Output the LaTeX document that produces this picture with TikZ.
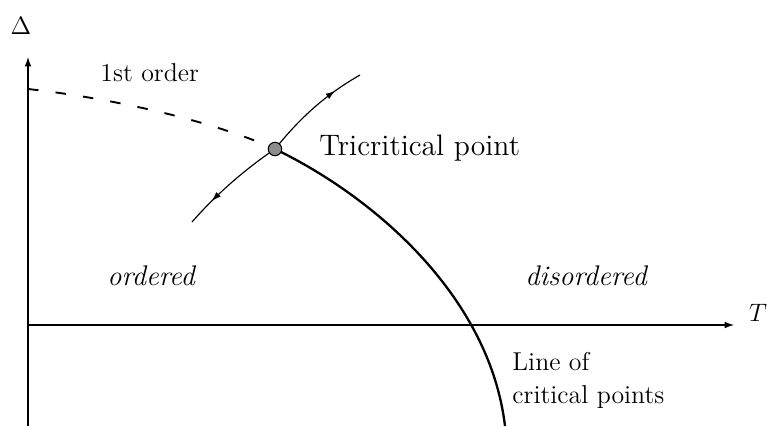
\documentclass[tikz,border=0pt]{standalone}
\usetikzlibrary{arrows.meta,decorations.markings}
\begin{document}
\begin{tikzpicture}[x=0.476pt,y=-0.476pt,
  axis/.style={line width=0.5pt,-{Latex[length=4.5pt,width=3.2pt]}},
  critline/.style={line width=1.1pt},
  firstorder/.style={line width=0.9pt,dash pattern=on 5pt off 8.2pt},
  flow/.style={line width=0.55pt,postaction={decorate},
    decoration={markings,mark=at position 0.74 with {\arrow{Latex[length=4.5pt,width=3pt]}}}},
  tcp/.style={circle,draw=black,fill=black!45,line width=0.5pt,inner sep=0pt,minimum size=6.4pt},
  lbl/.style={inner sep=0pt}]
\useasboundingbox (0,0) rectangle (767,426);
% axes
\coordinate (ybot) at (28,426);
\coordinate (ytop) at (28,57);
\coordinate (xleft) at (28,325);
\coordinate (xright) at (734,325);
\draw[axis] (ybot) -- (ytop);
\draw[axis] (xleft) -- (xright);
\node[lbl,font=\fontsize{12.6}{15}\selectfont] (Tlab) at (758,313) {$T$};
\node[lbl,font=\fontsize{12.6}{15}\selectfont] (Dlab) at (21,26) {$\Delta$};
% tricritical point
\coordinate (tc) at (275,149);
\coordinate (d0) at (28,89);
\coordinate (cbot) at (505,426);
\coordinate (up) at (360,75);
\coordinate (down) at (192,222);
\draw[firstorder] (d0) .. controls (110,98) and (210,120) .. (tc);
\draw[critline] (tc) .. controls (380,200) and (490,300) .. (cbot);
\draw[flow] (tc) .. controls (300,118) and (325,95) .. (up);
\draw[flow] (tc) .. controls (250,166) and (220,190) .. (down);
\node[tcp] (tcpt) at (tc) {};
% labels
\node[lbl,anchor=base west,font=\fontsize{14.1}{17}\selectfont] (tclab) at (319,155) {Tricritical point};
\node[lbl,anchor=base west,font=\fontsize{12.3}{15}\selectfont] (fo) at (100,81) {1st order};
\node[lbl,anchor=base west,font=\fontsize{13.5}{15}\selectfont\itshape] (ord) at (107,285) {ordered};
\node[lbl,anchor=base west,font=\fontsize{13.5}{15}\selectfont\itshape] (dis) at (525,285) {disordered};
\node[lbl,anchor=base west,align=left,font=\fontsize{12.3}{15.7}\selectfont] (loc) at (512,403) {Line of\\critical points};
\end{tikzpicture}
\end{document}
